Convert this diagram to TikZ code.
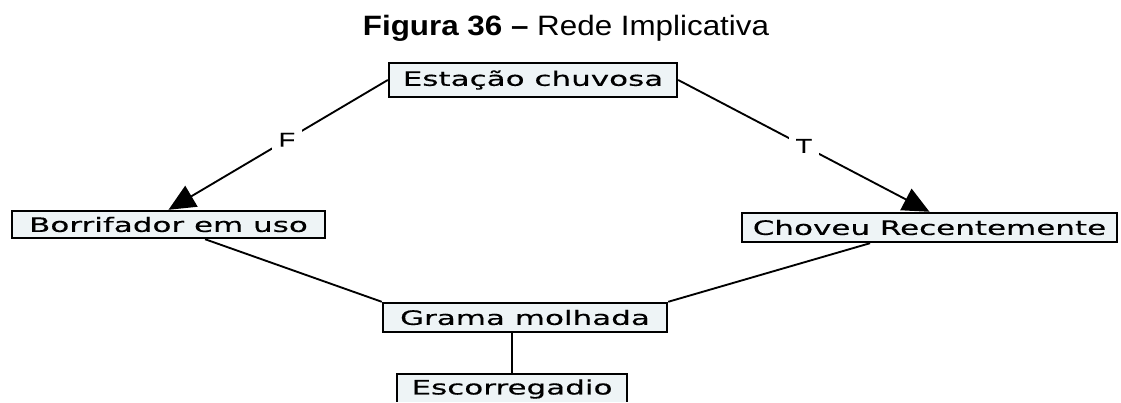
\documentclass[tikz,border=0pt]{standalone}
\usepackage{fontspec}
\setmainfont{Liberation Sans}
\newfontfamily\caixafonte[FakeStretch=1.56,FakeBold=0.4]{DejaVu Sans}
\newfontfamily\titulofonte[FakeStretch=1.12]{Liberation Sans}
\newfontfamily\rotulofonte[FakeStretch=1.35,FakeBold=0.3]{Liberation Sans}
\usetikzlibrary{arrows.meta}
\usetikzlibrary{shapes}

\definecolor{fundocaixa}{RGB}{238,244,246}

\tikzset{
	caixa/.style={draw=black, line width=1.8pt, fill=fundocaixa,
		inner sep=0pt, font=\caixafonte\fontsize{14.9pt}{17pt}\selectfont},
	ligacao/.style={line width=1.4pt},
	seta/.style={ligacao, -{Triangle[length=20pt,width=18pt]}},
	rotulo/.style={fill=white, inner sep=5pt,
		font=\rotulofonte\fontsize{15pt}{17pt}\selectfont}
}

\begin{document}
\begin{tikzpicture}[x=0.75pt, y=-0.75pt]
		% Fixing the page to the size of the reference
		\useasboundingbox (0,0) rectangle (1121,403);
		% Title of the figure
		\node[anchor=base] (titulo) at (566,36)
			{\titulofonte\fontsize{21pt}{25pt}\selectfont
			\textbf{Figura 36 –} Rede Implicativa};
		\begin{scope}
			% The picture is cut off at the bottom
			\clip (0,0) rectangle (1121,401);
			% The boxes of the net
			\node[caixa, minimum width=216pt, minimum height=25.5pt]
				(estacao) at (533,80) {Estação chuvosa};
			\node[caixa, minimum width=234.75pt, minimum height=20.25pt]
				(borrifador) at (168.5,224.5) {Borrifador em uso};
			\node[caixa, minimum width=281.25pt, minimum height=21.75pt]
				(choveu) at (929.5,227.5) {Choveu Recentemente};
			\node[caixa, minimum width=213pt, minimum height=21.75pt]
				(grama) at (525,317.5) {Grama molhada};
			\node[caixa, minimum width=172.5pt, minimum height=22.5pt]
				(escorregadio) at (512,389) {Escorregadio};
			% The two implications with their labels
			\draw[seta] (estacao.west) -- (borrifador.north)
				node[rotulo, pos=0.46] (rotuloF) {F};
			\draw[seta] (estacao.east) -- (choveu.north)
				node[rotulo, pos=0.5] (rotuloT) {T};
			% Plain links down to the wet grass
			\draw[ligacao] ([xshift=27.4pt]borrifador.south) -- (grama.north west);
			\draw[ligacao] ([xshift=-44.6pt]choveu.south) -- (grama.north east);
			\draw[ligacao] (escorregadio.north |- grama.south) -- (escorregadio.north);
		\end{scope}
	\end{tikzpicture}
\end{document}
